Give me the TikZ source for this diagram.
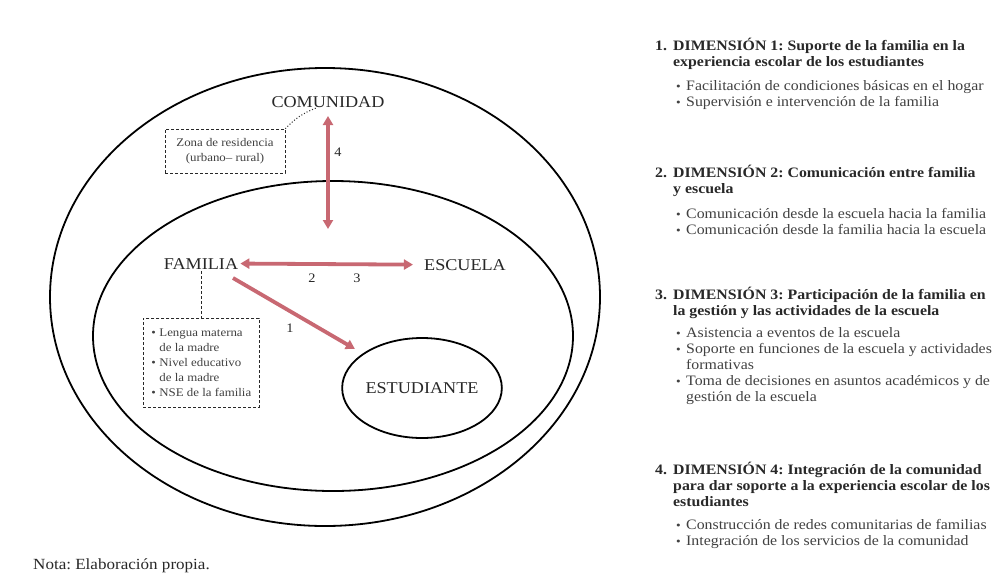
\documentclass[tikz,border=0pt]{standalone}
\usepackage{fontspec}
\setmainfont{Liberation Serif}[FakeStretch=1.1]
\usetikzlibrary{arrows.meta,shapes.geometric}
\definecolor{arr}{RGB}{200,104,114}
\definecolor{ink}{RGB}{40,40,40}
\definecolor{txt}{RGB}{65,65,65}
\frenchspacing
\begin{document}
\begin{tikzpicture}[x=1pt,y=-1pt,
  ell/.style={draw=black,line width=1.8pt,ellipse,inner sep=0pt},
  lbl/.style={font=\fontsize{16.5}{18}\selectfont,text=ink,inner sep=0pt,anchor=base},
  num/.style={font=\fontsize{13}{14}\selectfont,text=ink,inner sep=0pt},
  rel/.style={draw=arr,line width=3.8pt,{Triangle[length=9pt,width=10pt]}-{Triangle[length=9pt,width=10pt]}},
  rel1/.style={draw=arr,line width=3.8pt,-{Triangle[length=9pt,width=10pt]}},
  dbox/.style={draw=ink,line width=0.7pt,dash pattern=on 3pt off 2pt,inner sep=0pt,
    font=\fontsize{11.7}{15}\selectfont,text=txt},
  rt/.style={font=\fontsize{14.4}{16}\selectfont,text=txt,inner sep=0pt,anchor=base west},
  rh/.style={font=\fontsize{14.4}{16}\selectfont\bfseries,text=ink,inner sep=0pt,anchor=base west},
  bul/.style={font=\fontsize{12}{14}\selectfont,text=txt,inner sep=0pt,anchor=base west}
]
\useasboundingbox[fill=white] (0,0) rectangle (998,587);

% ellipses
\node[ell,minimum width=550pt,minimum height=458pt] (outer) at (325,297) {};
\node[ell,minimum width=480pt,minimum height=310pt] (inner) at (333,336) {};
\node[ell,minimum width=140pt,minimum height=100pt,font=\fontsize{16.5}{18}\selectfont,text=ink] (est) at (422,388) {ESTUDIANTE};

% labels
\node[lbl] (com) at (328,107) {COMUNIDAD};
\node[lbl] (fam) at (201,269) {FAMILIA};
\node[lbl] (esc) at (465,270) {ESCUELA};

% arrows
\coordinate (v1) at (328,116);
\coordinate (v2) at (328,229);
\draw[rel] (v1) -- (v2);
\draw[rel] ([xshift=2pt]fam.east) -- ([xshift=-11pt]esc.west);
\coordinate (d1) at (233,278);
\draw[rel1,shorten >=9pt] (d1) -- (est);

\node[num] (n4) at (338,152) {4};
\node[num] (n2) at (312,278) {2};
\node[num] (n3) at (357,278) {3};
\node[num] (n1) at (290,328) {1};

% dashed boxes
\node[dbox,minimum width=120pt,minimum height=44pt,align=center] (zona) at (225,151) {Zona de residencia\\(urbano– rural)};
\coordinate (zc) at (316,108);
\draw[ink,line width=1pt,dotted] (zona.north east) to[bend left=12] (zc);

\node[dbox,minimum width=116pt,minimum height=89pt,align=left,anchor=north west] (fbox) at (143,318)
 {\makebox[8pt][l]{•}Lengua materna\\\makebox[8pt][l]{}de la madre\\\makebox[8pt][l]{•}Nivel educativo\\\makebox[8pt][l]{}de la madre\\\makebox[8pt][l]{•}NSE de la familia};
\draw[ink,line width=0.7pt,dash pattern=on 3pt off 2pt] ([yshift=-2pt]fam.south) -- (fbox.north -| fam.south);

% note
\node[font=\fontsize{15.5}{17}\selectfont,text=ink,inner sep=0pt,anchor=base west] (nota) at (33,569) {Nota: Elaboración propia.};

% right text, block 1
\node[rh] (k1) at (655,50) {1.};
\node[rh] (h1a) at (673,50) {DIMENSIÓN 1: Suporte de la familia en la};
\node[rh] (h1b) at (673,66) {experiencia escolar de los estudiantes};
\node[bul] (p1a) at (676,90) {•};
\node[rt] (t1a) at (686,90) {Facilitación de condiciones básicas en el hogar};
\node[bul] (p1b) at (676,106) {•};
\node[rt] (t1b) at (686,106) {Supervisión e intervención de la familia};

% block 2
\node[rh] (k2) at (655,177) {2.};
\node[rh] (h2a) at (673,177) {DIMENSIÓN 2: Comunicación entre familia};
\node[rh] (h2b) at (673,193) {y escuela};
\node[bul] (p2a) at (676,218) {•};
\node[rt] (t2a) at (686,218) {Comunicación desde la escuela hacia la familia};
\node[bul] (p2b) at (676,234) {•};
\node[rt] (t2b) at (686,234) {Comunicación desde la familia hacia la escuela};

% block 3
\node[rh] (k3) at (655,299) {3.};
\node[rh] (h3a) at (673,299) {DIMENSIÓN 3: Participación de la familia en};
\node[rh] (h3b) at (673,315) {la gestión y las actividades de la escuela};
\node[bul] (p3a) at (676,337) {•};
\node[rt] (t3a) at (686,337) {Asistencia a eventos de la escuela};
\node[bul] (p3b) at (676,353) {•};
\node[rt] (t3b) at (686,353) {Soporte en funciones de la escuela y actividades};
\node[rt] (t3c) at (686,369) {formativas};
\node[bul] (p3d) at (676,385) {•};
\node[rt] (t3d) at (686,385) {Toma de decisiones en asuntos académicos y de};
\node[rt] (t3e) at (686,401) {gestión de la escuela};

% block 4
\node[rh] (k4) at (655,474) {4.};
\node[rh] (h4a) at (673,474) {DIMENSIÓN 4: Integración de la comunidad};
\node[rh] (h4b) at (673,490) {para dar soporte a la experiencia escolar de los};
\node[rh] (h4c) at (673,506) {estudiantes};
\node[bul] (p4a) at (676,529) {•};
\node[rt] (t4a) at (686,529) {Construcción de redes comunitarias de familias};
\node[bul] (p4b) at (676,545) {•};
\node[rt] (t4b) at (686,545) {Integración de los servicios de la comunidad};
\end{tikzpicture}
\end{document}
